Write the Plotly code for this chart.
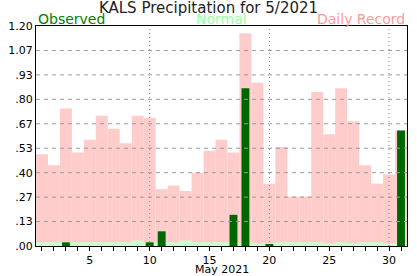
import plotly.graph_objects as go

days = list(range(1, 32))
record = [0.50, 0.44, 0.75, 0.51, 0.58, 0.71, 0.64, 0.56, 0.71, 0.70,
          0.31, 0.33, 0.30, 0.40, 0.52, 0.58, 0.51, 1.16, 0.89, 0.34,
          0.54, 0.27, 0.27, 0.84, 0.61, 0.86, 0.68, 0.44, 0.34, 0.39, 0.63]
normal = [0.02, 0.02, 0.02, 0.02, 0.02, 0.02, 0.02, 0.02, 0.03, 0.02,
          0.02, 0.02, 0.03, 0.02, 0.02, 0.02, 0.02, 0.02, 0.015, 0.015,
          0.02, 0.02, 0.02, 0.02, 0.015, 0.02, 0.015, 0.02, 0.02, 0.015, 0.02]
observed = [0, 0, 0.02, 0, 0, 0, 0, 0, 0, 0.02,
            0.08, 0, 0, 0, 0, 0, 0.17, 0.86, 0, 0.01,
            0, 0, 0, 0, 0, 0, 0, 0, 0, 0, 0.63]
y_tick_vals = [0.0, 0.1333, 0.2667, 0.4, 0.5333, 0.6667, 0.8, 0.9333, 1.0667, 1.2]
y_tick_text = [".00", ".13", ".27", ".40", ".53", ".67", ".80", ".93", "1.07", "1.20"]
x_label_days = [5, 10, 15, 20, 25, 30]
grid_days = [10, 20, 30]

x_tick_text = [str(d) if d in x_label_days else "" for d in days]

fig = go.Figure()
fig.add_trace(go.Bar(x=days, y=record, width=1.0, marker=dict(color="#FFCCCC", line=dict(width=0)),
                     hoverinfo="skip"))

# horizontal dashed grid lines above record bars
hx, hy = [], []
for v in y_tick_vals[1:-1]:
    hx += [0.5, 31.5, None]
    hy += [v, v, None]
fig.add_trace(go.Scatter(x=hx, y=hy, mode="lines", line=dict(color="#999999", width=1, dash="4px,4px"),
                         hoverinfo="skip"))
vx, vy = [], []
for d in grid_days:
    vx += [d, d, None]
    vy += [0, 1.2, None]
fig.add_trace(go.Scatter(x=vx, y=vy, mode="lines", line=dict(color="#888888", width=1, dash="1px,3px"),
                         hoverinfo="skip"))

fig.add_trace(go.Bar(x=days, y=normal, width=1.0, marker=dict(color="#CCFFCC", line=dict(width=0)),
                     hoverinfo="skip"))
fig.add_trace(go.Bar(x=days, y=observed, width=0.66, marker=dict(color="#006600", line=dict(width=0)),
                     hoverinfo="skip"))

fig.update_layout(
    width=417, height=276,
    margin=dict(l=36, r=10, t=26, b=30),
    barmode="overlay",
    showlegend=False,
    plot_bgcolor="white", paper_bgcolor="white",
    font=dict(family="DejaVu Sans", size=11, color="black"),
    title=dict(text="KALS Precipitation for 5/2021", x=0.5, xref="container", xanchor="center",
               y=1 - 8 / 276, yref="container", yanchor="middle", font=dict(size=15, color="#222222")),
    xaxis=dict(range=[0.5, 31.5], tickmode="array", tickvals=days, ticktext=x_tick_text,
               ticks="outside", ticklen=4, tickcolor="black", tickwidth=1, automargin=False,
               showline=True, linecolor="black", linewidth=1, mirror=True, showgrid=False,
               zeroline=False),
    yaxis=dict(range=[0, 1.2], tickmode="array", tickvals=y_tick_vals, ticktext=y_tick_text,
               ticks="", showline=True, linecolor="black", linewidth=1, mirror=True, automargin=False,
               showgrid=False, zeroline=False),
    annotations=[
        dict(text="Observed", x=0, xref="paper", xanchor="left", y=1, yref="paper", yanchor="bottom",
             yshift=-3, showarrow=False, font=dict(size=14, color="#008000")),
        dict(text="Normal", x=0.5, xref="paper", xanchor="center", y=1, yref="paper", yanchor="bottom",
             yshift=-3, showarrow=False, font=dict(size=14, color="#99FF99")),
        dict(text="Daily Record", x=1, xref="paper", xanchor="right", y=1, yref="paper", yanchor="bottom",
             yshift=-3, showarrow=False, font=dict(size=14, color="#FF9999")),
        dict(text="May 2021", x=0.5, xref="paper", xanchor="center", y=0, yref="paper", yanchor="top",
             yshift=-15, showarrow=False, font=dict(size=11, color="black")),
    ],
)

fig.write_html("out.html")
